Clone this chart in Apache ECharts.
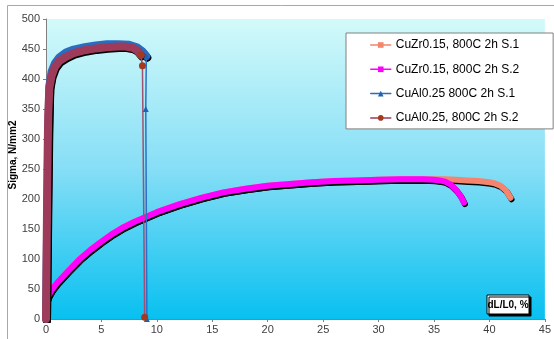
<!DOCTYPE html>
<html>
<head>
<meta charset="utf-8">
<script src="https://cdn.jsdelivr.net/npm/echarts@6/dist/echarts.min.js"></script>
<style>
html,body{margin:0;padding:0;background:#fff;}
#c{width:554px;height:339px;}
</style>
</head>
<body>
<div id="c"></div>
<script>
// ---- data ----
var seriesNames = ['CuZr0.15, 800C 2h S.1', 'CuZr0.15, 800C 2h S.2', 'CuAl0.25 800C 2h S.1', 'CuAl0.25, 800C 2h S.2'];

var zr1X = [0, 0.05, 0.2, 0.5, 1, 1.5, 2, 3, 4, 5, 6, 7, 8, 9, 10, 12, 14, 16, 18, 20, 22, 24, 26, 28, 30, 32, 34, 35, 36, 37, 38, 39, 40, 40.5, 41, 41.5, 41.9];
var zr1Y = [0, 30, 38, 48, 60, 70, 80, 99, 115, 129, 142, 153, 162, 170, 178, 191, 202, 211, 217, 222, 225, 228, 230, 231, 232, 233, 233, 233, 233, 232, 231, 230, 228, 226, 222, 214, 202];

var zr2X = [0, 0.05, 0.2, 0.5, 1, 1.5, 2, 3, 4, 5, 6, 7, 8, 9, 10, 12, 14, 16, 18, 20, 22, 24, 26, 28, 30, 32, 34, 35, 35.5, 36, 36.5, 37, 37.4, 37.7];
var zr2Y = [0, 30, 38, 48, 60, 70, 80, 99, 115, 129, 142, 153, 162, 170, 178, 191, 202, 211, 217, 222, 225, 228, 230, 231, 232, 233, 233, 232, 231, 229, 224, 215, 205, 194];

var al1X = [0, 0.1, 0.2, 0.3, 0.5, 0.8, 1.2, 1.8, 2.5, 3.5, 4.5, 5.5, 6.5, 7.5, 8.2, 8.7, 9.05];
var al1Y = [0, 150, 300, 388, 412, 426, 436, 444, 449, 453, 456, 458, 458, 457, 453, 446, 438];
var al1DropX = [9.05, 9.0, 9.1];
var al1DropY = [438, 350, 0];

var al2X = [0, 0.05, 0.1, 0.15, 0.2, 0.3, 0.5, 0.8, 1.2, 1.8, 2.5, 3.5, 4.5, 5.5, 6.5, 7.2, 7.8, 8.2, 8.55];
var al2Y = [0, 100, 200, 280, 340, 385, 405, 420, 430, 437, 443, 448, 451, 453, 454, 454, 452, 448, 440];
var al2DropX = [8.55, 8.7, 8.9];
var al2DropY = [440, 422, 3];

var xTicks = {min: 0, max: 45, step: 5};
var yTicks = {min: 0, max: 500, step: 50};
var xTitle = 'dL/L0, %';
var yTitle = 'Sigma, N/mm2';

function zip(xs, ys) { return xs.map(function (x, i) { return [x, ys[i]]; }); }

var chart = echarts.init(document.getElementById('c'), null, {renderer: 'canvas'});

function band(name, xs, ys, color, lineColor, width, symbol) {
  return {
    name: name, type: 'line', data: zip(xs, ys),
    symbol: symbol, showSymbol: false, symbolSize: 6,
    itemStyle: {color: color},
    lineStyle: {color: lineColor, width: width, cap: 'round', join: 'round',
      shadowColor: '#000', shadowOffsetX: 1, shadowOffsetY: 1.5, shadowBlur: 0},
    animation: false, silent: true
  };
}
function drop(name, xs, ys, color, lineColor, symbol, size) {
  return {
    name: name, type: 'line', data: zip(xs, ys),
    symbol: symbol, showSymbol: true, symbolSize: size,
    itemStyle: {color: color},
    lineStyle: {color: lineColor, width: 1.5},
    animation: false, silent: true
  };
}

var option = {
  animation: false,
  backgroundColor: '#fff',
  textStyle: {fontFamily: 'Liberation Sans, Arial, sans-serif'},
  grid: {
    left: 46, right: 4, top: 19, bottom: 20, show: true, borderWidth: 0,
    backgroundColor: new echarts.graphic.LinearGradient(0, 0, 0, 1, [
      {offset: 0, color: '#d2fafa'},
      {offset: 0.5, color: '#86def6'},
      {offset: 1, color: '#08c0f0'}
    ])
  },
  legend: {
    orient: 'vertical', left: 346, top: 33,
    data: seriesNames,
    itemWidth: 20, itemHeight: 7, itemGap: 12.3,
    padding: [6, 34, 5, 24],
    backgroundColor: '#fff', borderColor: '#808080', borderWidth: 1,
    textStyle: {fontSize: 12, color: '#000', fontFamily: 'Liberation Sans, Arial, sans-serif'},
    lineStyle: {width: 1.5, shadowColor: 'rgba(0,0,0,0)', shadowOffsetX: 0, shadowOffsetY: 0, shadowBlur: 0},
    itemStyle: {shadowColor: 'rgba(0,0,0,0)', shadowBlur: 0},
    selectedMode: false
  },
  xAxis: {
    type: 'value', min: xTicks.min, max: xTicks.max, interval: xTicks.step,
    axisLine: {show: true, onZero: false, lineStyle: {color: '#808080'}},
    axisTick: {show: true, length: 3, lineStyle: {color: '#808080'}},
    axisLabel: {color: '#404040', fontSize: 11, margin: 5},
    splitLine: {show: false}
  },
  yAxis: {
    type: 'value', min: yTicks.min, max: yTicks.max, interval: yTicks.step,
    axisLine: {show: true, lineStyle: {color: '#808080'}},
    axisTick: {show: true, length: 3, lineStyle: {color: '#808080'}},
    axisLabel: {color: '#404040', fontSize: 11, margin: 6},
    splitLine: {show: false}
  },
  graphic: [
    {type: 'rect', left: 5, top: 3, shape: {width: 600, height: 400},
      style: {fill: 'none', stroke: '#a8a8a8', lineWidth: 1}, z: 100, silent: true},
    {type: 'text', x: 13, y: 155, rotation: Math.PI / 2,
      style: {text: yTitle, font: 'bold 10px Liberation Sans, Arial, sans-serif', fill: '#000',
        align: 'center', verticalAlign: 'middle'}, z: 100},
    {type: 'rect', shape: {x: 487, y: 295, width: 42, height: 19},
      style: {fill: '#fff', stroke: '#000', lineWidth: 1, shadowColor: '#000', shadowOffsetX: 2, shadowOffsetY: 2, shadowBlur: 0}, z: 100},
    {type: 'text', x: 508, y: 305,
      style: {text: xTitle, font: 'bold 10px Liberation Sans, Arial, sans-serif', fill: '#000',
        align: 'center', verticalAlign: 'middle'}, z: 101}
  ],
  series: [
    band(seriesNames[0], zr1X, zr1Y, '#f4846e', '#f4846e', 6, 'rect'),
    band(seriesNames[1], zr2X, zr2Y, '#ff00ff', '#ff00ff', 6, 'rect'),
    band(seriesNames[2], al1X, al1Y, '#1f64b4', '#2a6cc0', 8, 'triangle'),
    band(seriesNames[3], al2X, al2Y, '#a33a1f', '#9e3a5a', 8, 'circle'),
    drop('al1drop', al1DropX, al1DropY, '#1f64b4', '#2a70c8', 'triangle', 6),
    drop('al2drop', al2DropX, al2DropY, '#a33a1f', '#a05070', 'circle', 7)
  ]
};
chart.setOption(option);
</script>
</body>
</html>
